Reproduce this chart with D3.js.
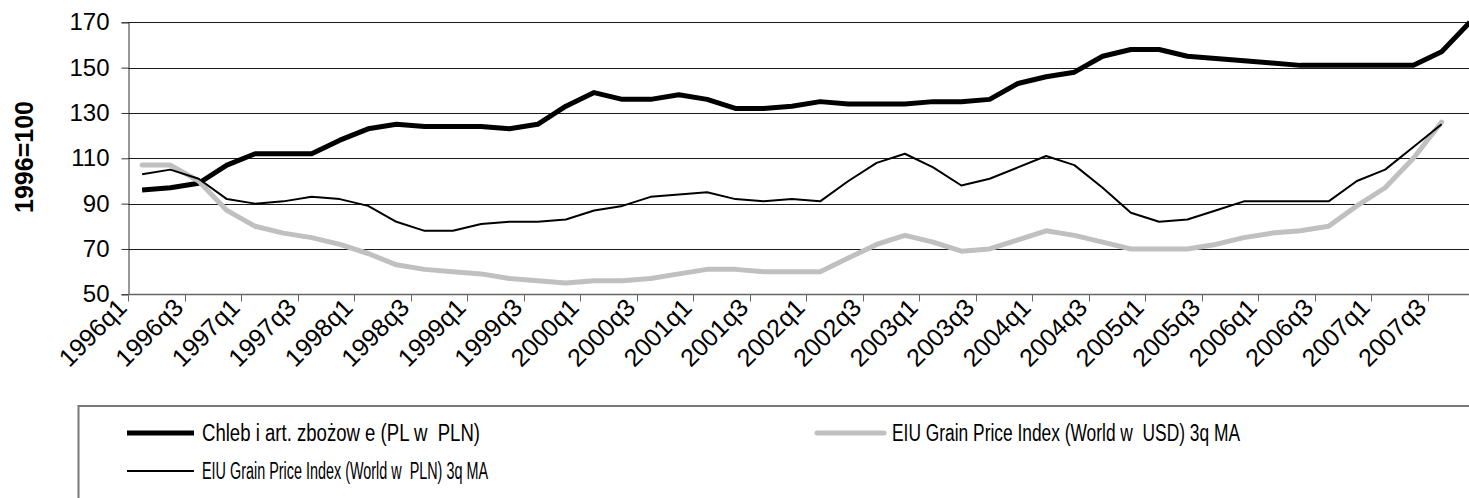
<!DOCTYPE html>
<html>
<head>
<meta charset="utf-8">
<script src="https://cdn.jsdelivr.net/npm/d3@7"></script>
<style>
  html, body { margin: 0; padding: 0; background: #fff; }
  svg { display: block; font-family: "Liberation Sans", Arial, sans-serif; }
</style>
</head>
<body>
<script>
const categories = [
  "1996q1","1996q2","1996q3","1996q4","1997q1","1997q2","1997q3","1997q4",
  "1998q1","1998q2","1998q3","1998q4","1999q1","1999q2","1999q3","1999q4",
  "2000q1","2000q2","2000q3","2000q4","2001q1","2001q2","2001q3","2001q4",
  "2002q1","2002q2","2002q3","2002q4","2003q1","2003q2","2003q3","2003q4",
  "2004q1","2004q2","2004q3","2004q4","2005q1","2005q2","2005q3","2005q4",
  "2006q1","2006q2","2006q3","2006q4","2007q1","2007q2","2007q3","2007q4"
];
const xTickLabels = [
  "1996q1","1996q3","1997q1","1997q3","1998q1","1998q3","1999q1","1999q3",
  "2000q1","2000q3","2001q1","2001q3","2002q1","2002q3","2003q1","2003q3",
  "2004q1","2004q3","2005q1","2005q3","2006q1","2006q3","2007q1","2007q3"
];
const chlebPLN = [
  96, 97, 99, 107, 112, 112, 112, 118, 123, 125, 124, 124, 124, 123, 125, 133,
  139, 136, 136, 138, 136, 132, 132, 133, 135, 134, 134, 134, 135, 135, 136, 143,
  146, 148, 155, 158, 158, 155, 154, 153, 152, 151, 151, 151, 151, 151, 157, 170
];
const eiuUSD = [
  107, 107, 100, 87, 80, 77, 75, 72, 68, 63, 61, 60, 59, 57, 56, 55,
  56, 56, 57, 59, 61, 61, 60, 60, 60, 66, 72, 76, 73, 69, 70, 74,
  78, 76, 73, 70, 70, 70, 72, 75, 77, 78, 80, 89, 97, 110, 126
];
const eiuPLN = [
  103, 105, 101, 92, 90, 91, 93, 92, 89, 82, 78, 78, 81, 82, 82, 83,
  87, 89, 93, 94, 95, 92, 91, 92, 91, 100, 108, 112, 106, 98, 101, 106,
  111, 107, 97, 86, 82, 83, 87, 91, 91, 91, 91, 100, 105, 115, 125
];
const yTicks = [50, 70, 90, 110, 130, 150, 170];
const legendLabels = [
  "Chleb i art. zbożow e (PL w  PLN)",
  "EIU Grain Price Index (World w  USD) 3q MA",
  "EIU Grain Price Index (World w  PLN) 3q MA"
];

const W = 1469, H = 498;
const svg = d3.select("body").append("svg").attr("width", W).attr("height", H);
svg.append("rect").attr("width", W).attr("height", H).attr("fill", "#fff");

const left = 128, bandW = 28.25;
const x = d3.scaleBand().domain(categories).range([left, left + bandW * categories.length]).padding(0);
const y = d3.scaleLinear().domain([50, 170]).range([294.3, 22.3]);
const cx = d => x(d) + x.bandwidth() / 2;

// gridlines
svg.append("g").selectAll("line").data(yTicks.filter(t => t !== 50)).join("line")
  .attr("x1", left).attr("x2", W)
  .attr("y1", d => Math.round(y(d)) + 0.5).attr("y2", d => Math.round(y(d)) + 0.5)
  .attr("stroke", "#1a1a1a").attr("stroke-width", 1);

// y axis
const yAxis = d3.axisLeft(y).tickValues(yTicks).tickSize(7).tickPadding(12).tickFormat(d3.format("d"));
const gy = svg.append("g").attr("transform", `translate(${left + 0.5},0)`).call(yAxis);
gy.attr("font-size", null).attr("font-family", null);
gy.select(".domain").attr("stroke", "#333");
gy.selectAll(".tick line").attr("stroke", "#333");
gy.selectAll(".tick text").attr("font-size", 24).attr("fill", "#000")
  .attr("font-family", "Liberation Sans, Arial, sans-serif");

// x axis (ticks between categories, every 2)
const xAxisY = Math.round(y(50)) + 0.5;
svg.append("line").attr("x1", left).attr("x2", W).attr("y1", xAxisY).attr("y2", xAxisY)
  .attr("stroke", "#666").attr("stroke-width", 1.5);
const tickCats = categories.filter((d, i) => i % 2 === 0);
svg.append("g").selectAll("line").data(tickCats).join("line")
  .attr("x1", d => Math.round(x(d)) + 0.5).attr("x2", d => Math.round(x(d)) + 0.5)
  .attr("y1", xAxisY).attr("y2", xAxisY + 7)
  .attr("stroke", "#666").attr("stroke-width", 1);

svg.append("g").selectAll("text").data(xTickLabels).join("text")
  .attr("transform", d => `translate(${cx(d) - 20},${303}) rotate(-45)`)
  .attr("text-anchor", "end").attr("dy", "0.35em")
  .attr("font-size", 25).attr("fill", "#000")
  .text(d => d);

// y title
svg.append("text")
  .attr("transform", `translate(24,157) rotate(-90)`)
  .attr("text-anchor", "middle").attr("dy", "0.35em")
  .attr("font-size", 25).attr("font-weight", "bold").attr("fill", "#000")
  .text("1996=100");

// lines
const line = d3.line().x((d, i) => cx(categories[i])).y(d => y(d));
const plot = svg.append("g");
plot.append("path").datum(chlebPLN).attr("d", line)
  .attr("fill", "none").attr("stroke", "#000").attr("stroke-width", 5).attr("stroke-linejoin", "round");
plot.append("path").datum(eiuUSD).attr("d", line)
  .attr("fill", "none").attr("stroke", "#c0c0c0").attr("stroke-width", 5).attr("stroke-linejoin", "round").attr("stroke-linecap", "round");
plot.append("path").datum(eiuPLN).attr("d", line)
  .attr("fill", "none").attr("stroke", "#000").attr("stroke-width", 2).attr("stroke-linejoin", "round");

// legend
const lg = svg.append("g");
lg.append("rect").attr("x", 78.5).attr("y", 406).attr("width", 1500).attr("height", 200)
  .attr("fill", "#fff").attr("stroke", "#777").attr("stroke-width", 2);
const legendItems = [
  { label: legendLabels[0], color: "#000", sw: 5, x0: 127, row: 433, w: 278 },
  { label: legendLabels[1], color: "#c0c0c0", sw: 5, x0: 817, row: 433, w: 348 },
  { label: legendLabels[2], color: "#000", sw: 2, x0: 127, row: 471, w: 286 }
];
legendItems.forEach(it => {
  lg.append("line").attr("x1", it.x0).attr("x2", it.x0 + 67).attr("y1", it.row).attr("y2", it.row)
    .attr("stroke", it.color).attr("stroke-width", it.sw).attr("stroke-linecap", it.color === "#c0c0c0" ? "round" : "butt");
  lg.append("text").attr("x", it.x0 + 75).attr("y", it.row).attr("dy", "0.35em")
    .attr("font-size", 23).attr("fill", "#000").attr("xml:space", "preserve")
    .style("white-space", "pre")
    .attr("textLength", it.w).attr("lengthAdjust", "spacingAndGlyphs")
    .text(it.label);
});
</script>
</body>
</html>
